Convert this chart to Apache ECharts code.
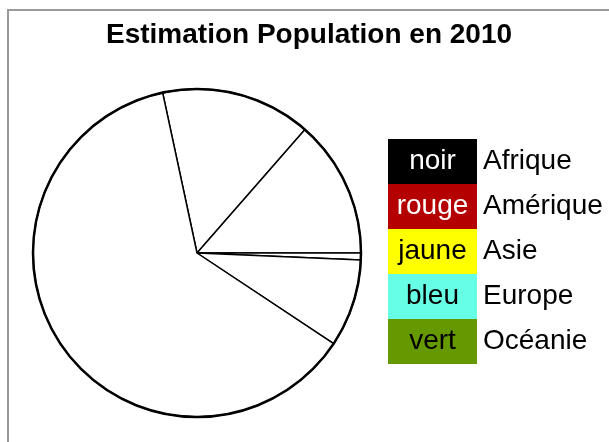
<!DOCTYPE html>
<html>
<head>
<meta charset="utf-8">
<script src="https://cdn.jsdelivr.net/npm/echarts@6/dist/echarts.min.js"></script>
<style>
  html, body { margin: 0; padding: 0; background: #fff; }
  #root { width: 609px; height: 442px; }
</style>
</head>
<body>
<div id="root"></div>
<script>
// population 2010 (millions), dans l'ordre du camembert (sens horaire)
const regions = ['Afrique', 'Amérique', 'Océanie', 'Europe', 'Asie'];
const population = [989, 906, 45, 579, 4164];

// légende
const legendNames = ['Afrique', 'Amérique', 'Asie', 'Europe', 'Océanie'];
const colorNames = ['noir', 'rouge', 'jaune', 'bleu', 'vert'];
const boxColors = ['#000000', '#b40000', '#ffff00', '#66ffe6', '#669900'];
const boxText = ['#fff', '#fff', '#000', '#000', '#000'];

const FONT = "'Liberation Sans', Arial, sans-serif";

let rich = {
    t: { fontSize: 28, fontFamily: FONT, color: '#000', padding: [0, 0, 0, 6] }
};
boxColors.forEach((c, i) => {
    rich['c' + i] = {
        backgroundColor: c,
        color: boxText[i],
        width: 89,
        height: 45,
        lineHeight: 45,
        align: 'center',
        fontSize: 28,
        fontFamily: FONT
    };
});

let myChart = echarts.init(document.getElementById('root'));

let option = {
    animation: false,
    title: {
        text: 'Estimation Population en 2010',
        left: 101,
        top: 16,
        textStyle: { fontFamily: FONT, fontWeight: 'bold', fontSize: 28, color: '#000' }
    },
    graphic: [{
        type: 'rect',
        shape: { x: 8, y: 10, width: 700, height: 500 },
        style: { fill: 'none', stroke: '#999', lineWidth: 2 },
        silent: true
    }],
    legend: {
        orient: 'vertical',
        left: 377,
        top: 134,
        itemGap: 0,
        itemWidth: 0,
        itemHeight: 0,
        selectedMode: false,
        data: legendNames,
        formatter: function (name) {
            let i = legendNames.indexOf(name);
            return '{c' + i + '|' + colorNames[i] + '}{t|' + name + '}';
        },
        textStyle: { rich: rich }
    },
    series: [{
        type: 'pie',
        center: [197, 253],
        radius: 164,
        startAngle: 102.1,
        clockwise: true,
        label: { show: false },
        labelLine: { show: false },
        emphasis: { disabled: true },
        itemStyle: { color: '#fff', borderColor: '#000', borderWidth: 1.5 },
        data: regions.map((r, i) => ({ name: r, value: population[i] }))
    }, {
        // contour extérieur plus épais
        type: 'pie',
        center: [197, 253],
        radius: 164,
        silent: true,
        label: { show: false },
        labelLine: { show: false },
        emphasis: { disabled: true },
        itemStyle: { color: 'rgba(0,0,0,0)', borderColor: '#000', borderWidth: 2.5 },
        data: [{ name: 'contour', value: 1 }]
    }]
};

myChart.setOption(option);
</script>
</body>
</html>
